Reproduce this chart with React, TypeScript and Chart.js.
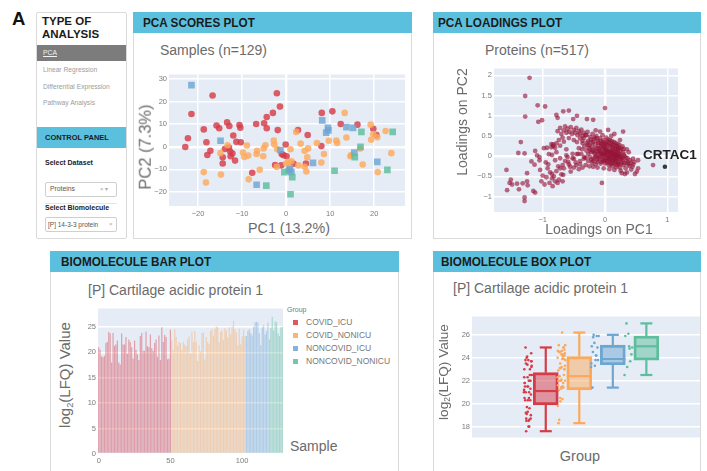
import React, { useEffect, useRef } from 'react';
import { Chart, registerables } from 'chart.js';

Chart.register(...registerables);

const FONT = '"Liberation Sans", Arial, Helvetica, sans-serif';
const CYAN = '#5bc0de';
const TXT = '#6b6b6b';
const TICK = '#7b7b7b';

// ---------- data ----------
const groupNames = ['COVID_ICU', 'COVID_NONICU', 'NONCOVID_ICU', 'NONCOVID_NONICU'];
const groupColors = ['#d63c47', '#fca95c', '#6ea6d2', '#5dbd9c'];
const analysisTypes = ['PCA', 'Linear Regression', 'Differential Expression', 'Pathway Analysis'];

// PCA scores [PC1, PC2]
const covidIcuScores = [
  [-22.9, -0.1], [-22.3, 3.8], [-21.5, 14.5], [-16.7, 22.7], [-18.7, 7.7], [-18.1, 2.0], [-17.9, -3.6], [-17.2, -1.8],
  [-15.8, 9.4], [-15.2, 8.2], [-13.4, 10.8], [-12.9, 9.2], [-13.9, -1.0], [-12.7, -2.1], [-12.6, -4.2], [-14.4, -4.6],
  [-14.4, -7.4], [-11.6, -6.1], [-12.0, 5.0], [-10.6, 9.6], [-10.4, 8.4], [-10.3, 2.0], [-7.7, -11.5], [-6.8, 10.1],
  [-5.0, 10.4], [-4.4, 13.2], [-4.4, 8.2], [-3.0, 15.0], [-1.9, 7.4], [-2.1, 23.7], [-1.4, 17.8], [-2.5, -8.1],
  [-0.6, -3.7], [0.1, -4.2], [-1.1, -8.2], [-0.1, 1.0], [1.7, -7.5], [2.7, 7.4], [4.5, -7.4], [4.9, 5.2],
  [8.1, 15.0], [8.0, 0.3], [10.5, 15.7], [12.4, 10.1], [16.2, 9.8], [19.8, 8.0], [20.5, 5.2], [-13.0, -0.3],
  [-1.0, -3.2], [-12.2, -3.0], [-11.3, 2.2],
];
const covidNonIcuScores = [
  [-18.7, -11.2], [-18.2, -15.8], [-14.8, -12.3], [-14.9, -2.8], [-13.3, 0.7], [-8.9, 0.6], [-9.8, -2.5], [-8.5, -14.4],
  [-8.6, -3.9], [-6.6, -1.8], [-6.7, -3.2], [-6.0, -10.2], [-5.2, -4.2], [-5.1, -0.7], [-4.7, 0.7], [-2.8, 2.8],
  [-2.7, 1.0], [-2.0, -1.1], [1.0, -1.1], [0.0, -7.4], [1.2, -6.4], [2.3, 6.6], [3.3, 1.4], [4.2, -1.8],
  [4.8, -4.6], [4.6, -10.9], [4.2, -8.8], [5.0, -0.7], [7.0, 1.7], [8.0, -7.0], [8.6, -3.2], [9.7, 2.7],
  [11.6, 1.7], [11.4, 2.8], [13.3, 15.0], [13.7, 4.1], [14.8, -3.6], [17.4, -7.8], [19.2, 9.8], [19.3, 3.1],
  [19.8, 5.6], [20.7, 4.2], [20.8, -11.2], [22.6, 7.0], [23.9, -2.8], [14.6, -4.2], [16.8, -0.8], [0.9, -9.3],
  [-2.1, -8.9], [0.5, -6.8], [2.8, -8.2], [-9.5, -4.5],
];
const noncovidIcuScores = [
  [-21.5, 27.3], [-14.9, 2.7], [-6.7, -16.8], [-1.3, -1.4], [0.8, -9.9], [1.2, -11.2], [0.6, -10.6], [6.1, -7.1],
  [8.2, 11.7], [9.1, 6.3], [9.5, 8.4], [9.6, 7.3], [13.7, 8.7], [15.2, 8.4], [15.5, -2.5], [20.7, -6.7],
];
const noncovidNonIcuScores = [
  [-4.5, -17.2], [-0.4, -11.2], [1.4, -13.4], [1.0, -21.0], [11.0, -10.6], [17.1, 6.6], [16.9, 0.0], [15.6, -4.6],
  [23.0, -10.2], [24.2, 6.6],
];

// PCA loadings [PC1, PC2]
const loadings = [
  [-1.21, 1.94], [-1.28, 1.49], [-1.28, 0.98], [-1.08, 1.26], [-0.96, 1.23], [-1.07, 0.85], [-1.01, 0.89], [-0.78, 1.02],
  [-0.76, 0.95], [-0.67, 1.11], [-0.58, 1.13], [-0.45, 1.0], [-0.51, 0.92], [-0.29, 0.92], [-0.19, 0.9], [0.0, 1.19],
  [-0.08, 0.61], [0.05, 0.65], [0.29, 0.61],
  [-0.93, 0.21], [-1.35, 0.35], [-1.39, 0.08], [-1.29, 0.07], [-1.58, -0.34], [-1.57, -0.84], [-1.51, -0.58], [-1.53, -0.66],
  [-1.49, -0.7], [-1.41, -0.68], [-1.38, -0.82], [-1.32, -0.67], [-1.29, -1.02], [-1.29, -1.11], [-1.25, -0.62], [-1.24, -0.72],
  [-1.25, -0.42], [-1.18, -0.13], [-1.13, -0.21], [-1.12, -0.9], [-1.15, -0.86], [-1.12, 0.13], [-1.09, 0.02], [-1.05, -0.02],
  [-1.04, -0.34], [-1.02, -0.62], [-0.97, -0.7], [-0.94, -0.52], [-0.91, -0.2], [-0.85, 0.03], [-0.83, 0.25], [-0.8, 0.21],
  [-0.85, -0.44], [-0.82, -0.5], [-0.78, -0.37], [-0.76, -0.66], [-0.84, -0.74], [-0.89, -0.66], [-0.72, -0.3], [-0.68, -0.22],
  [-0.67, -0.46], [-0.62, 0.17], [-0.6, -0.02], [-0.59, -0.14], [-0.56, -0.26], [-0.52, 0.06], [-0.5, -0.06], [-0.46, -0.22],
  [-0.43, 0.06], [-0.37, 0.17], [-0.34, -0.06], [-0.31, -0.22], [-0.19, -0.26], [-0.05, -0.66],
  [0.21, 0.19], [0.35, 0.17], [0.45, -0.06], [0.53, -0.1], [0.53, -0.3], [0.51, -0.38], [0.48, -0.44], [0.32, -0.44],
  [0.27, -0.42], [0.77, -0.22],
  [-0.83, 0.29], [-0.86, 0.22], [-0.78, 0.32], [-0.72, 0.26], [-0.66, 0.36], [-0.74, 0.4],
  [-0.76, 0.62], [-0.72, 0.7], [-0.7, 0.55], [-0.66, 0.64], [-0.64, 0.74], [-0.62, 0.58], [-0.6, 0.68], [-0.57, 0.6],
  [-0.55, 0.72], [-0.53, 0.55], [-0.5, 0.65], [-0.48, 0.58], [-0.46, 0.7], [-0.44, 0.52], [-0.42, 0.62], [-0.4, 0.56],
  [-0.38, 0.66], [-0.36, 0.5], [-0.34, 0.58], [-0.31, 0.52], [-0.68, 0.46], [-0.58, 0.45], [-0.5, 0.4], [-0.45, 0.35],
  [-0.4, 0.44], [-0.36, 0.38],
  [-0.34, 0.45], [-0.3, 0.52], [-0.27, 0.38], [-0.24, 0.48], [-0.22, 0.34], [-0.2, 0.55], [-0.18, 0.42], [-0.16, 0.3],
  [-0.14, 0.5], [-0.12, 0.38], [-0.1, 0.27], [-0.08, 0.45], [-0.06, 0.33], [-0.04, 0.52], [-0.02, 0.4], [0.0, 0.3],
  [0.02, 0.46], [0.04, 0.36], [0.06, 0.26], [0.08, 0.4], [0.1, 0.31], [0.12, 0.22], [0.14, 0.35], [0.16, 0.27],
  [0.18, 0.18], [0.2, 0.3], [0.22, 0.22], [0.25, 0.14], [0.28, 0.24],
  [-0.33, 0.24], [-0.3, 0.14], [-0.28, 0.28], [-0.26, 0.2], [-0.23, 0.1], [-0.21, 0.24], [-0.19, 0.16], [-0.17, 0.06],
  [-0.15, 0.2], [-0.13, 0.12], [-0.11, 0.02], [-0.09, 0.18], [-0.07, 0.09], [-0.05, 0.0], [-0.03, 0.22], [-0.01, 0.13],
  [0.01, 0.04], [0.03, 0.18], [0.05, 0.1], [0.07, 0.0], [0.09, 0.14], [0.11, 0.06], [0.13, -0.03], [0.15, 0.12],
  [0.17, 0.04], [0.19, -0.05], [0.21, 0.08], [0.23, 0.0], [0.26, -0.06], [0.3, 0.04], [0.33, -0.03],
  [-0.31, -0.04], [-0.27, -0.12], [-0.24, -0.02], [-0.21, -0.16], [-0.18, -0.06], [-0.15, -0.2], [-0.12, -0.09], [-0.09, -0.02],
  [-0.06, -0.14], [-0.03, -0.07], [0.0, -0.18], [0.02, -0.04], [0.04, -0.12], [0.06, -0.22], [0.08, -0.08], [0.1, -0.16],
  [0.12, -0.25], [0.14, -0.1], [0.16, -0.18], [0.18, -0.27], [0.2, -0.12], [0.22, -0.2], [0.24, -0.28], [0.27, -0.15],
  [0.3, -0.22], [0.33, -0.3], [0.36, -0.16], [0.39, -0.24], [0.42, -0.33], [0.45, -0.2], [0.4, -0.1], [0.36, -0.05],
  [-0.02, 0.08], [0.04, 0.02], [0.1, -0.02], [0.16, -0.06], [0.08, 0.1], [0.0, 0.2], [-0.06, 0.24], [0.12, 0.16],
  [-0.1, 0.1], [0.2, 0.0], [0.06, -0.06], [0.14, 0.04], [0.02, 0.12], [-0.04, 0.04], [0.18, 0.1], [0.24, 0.05],
  [-0.25, -0.25], [-0.12, -0.28], [-0.02, -0.3], [0.07, -0.32], [0.15, -0.34], [0.25, -0.36], [0.35, -0.4], [-0.38, 0.05],
  [-0.4, -0.12], [-0.42, 0.2], [-0.36, 0.32], [0.38, 0.1], [0.3, 0.18], [0.24, 0.4], [0.1, 0.5], [-0.28, 0.6],
  [-0.15, 0.64], [0.15, 0.55],
  [-0.29, 0.33], [-0.25, 0.27], [-0.23, 0.41], [-0.19, 0.35], [-0.17, 0.46], [-0.13, 0.44], [-0.11, 0.33], [-0.07, 0.38],
  [-0.05, 0.29], [-0.03, 0.35], [-0.01, 0.25], [0.01, 0.33], [0.03, 0.28], [0.05, 0.41], [0.07, 0.33], [0.09, 0.24],
  [0.11, 0.37], [0.13, 0.28], [0.15, 0.19], [0.17, 0.33], [0.19, 0.24], [0.21, 0.15], [0.23, 0.28], [0.26, 0.19], [0.29, 0.1],
  [-0.27, 0.06], [-0.24, 0.16], [-0.2, 0.12], [-0.16, 0.1], [-0.14, 0.0], [-0.12, 0.2], [-0.08, 0.13], [-0.06, 0.06],
  [-0.04, 0.17], [-0.02, 0.02], [0.0, 0.06], [0.02, 0.16], [0.04, 0.08], [0.06, 0.14], [0.08, 0.04], [0.1, 0.1],
  [0.12, 0.02], [0.14, 0.08], [0.16, 0.0], [0.18, 0.06], [0.2, -0.02], [0.22, 0.04], [0.25, -0.01], [0.28, -0.04], [0.31, 0.0],
  [-0.22, -0.08], [-0.19, -0.12], [-0.16, -0.02], [-0.13, -0.14], [-0.1, -0.06], [-0.07, -0.18], [-0.04, -0.1], [-0.01, -0.12],
  [0.01, -0.08], [0.03, -0.16], [0.05, -0.04], [0.07, -0.12], [0.09, -0.2], [0.11, -0.1], [0.13, -0.18], [0.15, -0.08],
  [0.17, -0.14], [0.19, -0.22], [0.21, -0.16], [0.23, -0.08], [0.25, -0.2], [0.28, -0.1], [0.31, -0.17], [0.34, -0.12],
  [0.37, -0.2], [0.41, -0.16], [0.44, -0.26], [0.47, -0.14],
  [-0.95, -0.15], [-0.9, 0.05], [-0.88, -0.4], [-0.8, -0.1], [-0.78, 0.1], [-0.75, -0.25], [-0.72, -0.05], [-0.7, -0.45],
  [-0.66, -0.3], [-0.64, -0.12], [-0.62, 0.02], [-0.58, -0.2], [-0.55, -0.38], [-0.52, -0.05], [-0.5, -0.28], [-0.47, -0.15],
  [-0.45, 0.05], [-0.42, -0.32], [-0.4, -0.2], [-0.36, -0.28], [-0.33, -0.02], [-0.85, -0.55], [-0.8, -0.62], [-0.74, -0.58],
  [-0.68, -0.62], [-0.92, -0.3], [-1.0, -0.48], [-1.05, -0.1], [-0.98, 0.2], [-0.86, 0.3],
];
const crtac1Loading = [0.96, -0.26];
const crtac1Label = 'CRTAC1';

// log2(LFQ) values of CRTAC1 per sample
const covidIcuLFQ = [
  21.0, 20.5, 19.2, 19.0, 19.3, 21.8, 22.0, 24.0, 23.7, 18.0, 23.8, 21.3, 21.5, 22.3, 18.0, 17.6, 23.7, 21.5, 21.5, 23.0,
  19.7, 22.5, 22.0, 21.0, 18.7, 22.3, 20.5, 19.6, 18.5, 23.2, 23.8, 20.3, 20.3, 24.1, 21.2, 21.0, 23.5, 20.8, 20.3, 21.8,
  22.5, 19.1, 23.3, 18.5, 24.9, 22.0, 23.4, 23.0, 18.6, 18.7, 24.4,
];
const covidNonIcuLFQ = [
  22.3, 20.4, 24.5, 23.0, 21.3, 22.0, 21.8, 20.5, 22.0, 21.5, 21.2, 22.5, 23.1, 19.8, 24.1, 22.0, 24.2, 22.1, 18.3, 21.4,
  20.2, 23.8, 23.9, 18.6, 23.0, 22.0, 21.6, 24.2, 24.5, 23.3, 24.6, 25.1, 24.9, 22.0, 24.0, 24.3, 22.4, 24.7, 24.3, 22.9,
  24.9, 23.5, 25.1, 26.2, 24.5, 23.9, 21.4, 24.6, 21.5, 23.1, 24.4, 23.2,
];
const noncovidIcuLFQ = [23.2, 24.2, 24.5, 23.8, 23.3, 25.0, 25.9, 26.0, 25.9, 23.8, 21.4, 24.9, 25.3, 23.5, 24.2, 25.8];
const noncovidNonIcuLFQ = [22.5, 24.8, 27.0, 24.3, 26.1, 25.9, 23.7, 23.2, 24.9, 25.0];

// box statistics
const boxMin = [17.6, 18.3, 21.4, 22.5];
const boxQ1 = [19.9, 21.2, 23.4, 23.8];
const boxMedian = [21.1, 22.4, 23.9, 25.0];
const boxQ3 = [22.7, 24.1, 25.1, 25.9];
const boxMax = [24.9, 26.2, 26.0, 27.0];

// ---------- helpers ----------
function rgba(hex: string, a: number) {
  const n = parseInt(hex.slice(1), 16);
  return `rgba(${(n >> 16) & 255},${(n >> 8) & 255},${n & 255},${a})`;
}
const minus = (v: any) => String(v).replace('-', '\u2212');
const tickFont = { family: FONT, size: 7.5 };

function linAxis(min: number, max: number, step: number, fit: { w?: number; h?: number }, pad = 2) {
  return {
    type: 'linear',
    min,
    max,
    offset: false,
    ticks: { stepSize: step, includeBounds: false, font: tickFont, color: TICK, padding: pad, callback: minus, maxRotation: 0, autoSkip: false },
    grid: { color: '#ffffff', lineWidth: (c: any) => (c.tick && c.tick.value === 0 ? 2.4 : 1.5), drawTicks: false },
    border: { display: false },
    afterFit: (s: any) => {
      if (fit.w != null) s.width = fit.w;
      if (fit.h != null) s.height = fit.h;
    },
  };
}

const plotBg = {
  id: 'plotBg',
  beforeDraw(chart: any) {
    const { ctx, chartArea: a } = chart;
    ctx.save();
    ctx.fillStyle = '#e5ecf6';
    ctx.fillRect(a.left, a.top, a.right - a.left, a.bottom - a.top);
    ctx.restore();
  },
};

const boxParts = {
  id: 'boxParts',
  afterDatasetsDraw(chart: any) {
    const { ctx, scales } = chart;
    const x = scales.x;
    const y = scales.y;
    ctx.save();
    ctx.lineCap = 'butt';
    groupColors.forEach((c, i) => {
      const cx = x.getPixelForValue(i);
      ctx.strokeStyle = c;
      ctx.lineWidth = 2.2;
      const seg = (x1: number, y1: number, x2: number, y2: number) => {
        ctx.beginPath();
        ctx.moveTo(x1, y1);
        ctx.lineTo(x2, y2);
        ctx.stroke();
      };
      seg(cx, y.getPixelForValue(boxMin[i]), cx, y.getPixelForValue(boxQ1[i]));
      seg(cx, y.getPixelForValue(boxQ3[i]), cx, y.getPixelForValue(boxMax[i]));
      seg(cx - 6, y.getPixelForValue(boxMin[i]), cx + 6, y.getPixelForValue(boxMin[i]));
      seg(cx - 6, y.getPixelForValue(boxMax[i]), cx + 6, y.getPixelForValue(boxMax[i]));
      seg(cx - 12.5, y.getPixelForValue(boxMedian[i]), cx + 12.5, y.getPixelForValue(boxMedian[i]));
    });
    ctx.restore();
  },
};

const crtacLabel = {
  id: 'crtacLabel',
  afterDatasetsDraw(chart: any) {
    const { ctx, scales } = chart;
    const px = scales.x.getPixelForValue(crtac1Loading[0]);
    const py = scales.y.getPixelForValue(crtac1Loading[1]);
    ctx.save();
    ctx.font = `bold 13.5px ${FONT}`;
    ctx.fillStyle = '#222';
    ctx.textAlign = 'center';
    ctx.textBaseline = 'alphabetic';
    ctx.fillText(crtac1Label, px + 5, py - 8);
    ctx.restore();
  },
};

const baseOptions = {
  responsive: false,
  maintainAspectRatio: false,
  animation: false,
  events: [],
  layout: { padding: 0, autoPadding: false },
};

// ---------- chart configs ----------
function scoresConfig() {
  const sets = [covidIcuScores, covidNonIcuScores, noncovidIcuScores, noncovidNonIcuScores];
  return {
    type: 'scatter',
    data: {
      datasets: sets.map((s, i) => ({
        label: groupNames[i],
        data: s.map(([x, y]) => ({ x, y })),
        backgroundColor: rgba(groupColors[i], 0.82),
        borderWidth: 0,
        pointStyle: i < 2 ? 'circle' : 'rect',
        pointRadius: i < 2 ? 3.3 : 4.7,
        order: 4 - i,
      })),
    },
    options: {
      ...baseOptions,
      scales: {
        x: linAxis(-26.6, 27, 10, { h: 14 }, 3),
        y: linAxis(-26.2, 32, 10, { w: 22 }, 2),
      },
      plugins: { legend: { display: false }, tooltip: { enabled: false } },
    },
    plugins: [plotBg],
  };
}

function loadingsConfig() {
  return {
    type: 'scatter',
    data: {
      datasets: [
        {
          data: [{ x: crtac1Loading[0], y: crtac1Loading[1] }],
          backgroundColor: '#3a3a3a',
          borderWidth: 0,
          pointRadius: 2.3,
          order: 1,
        },
        {
          data: loadings.map(([x, y]) => ({ x, y })),
          backgroundColor: 'rgba(150,20,55,0.62)',
          borderWidth: 0,
          pointRadius: 2.4,
          order: 2,
        },
      ],
    },
    options: {
      ...baseOptions,
      layout: { padding: { left: 0, top: 0, bottom: 0, right: 22 }, autoPadding: false },
      scales: {
        x: linAxis(-1.78, 1.17, 1, { h: 14 }, 3),
        y: linAxis(-1.38, 2.17, 0.5, { w: 26 }, 2),
      },
      plugins: { legend: { display: false }, tooltip: { enabled: false } },
    },
    plugins: [plotBg, crtacLabel],
  };
}

const barGroups = [covidIcuLFQ, covidNonIcuLFQ, noncovidIcuLFQ, noncovidNonIcuLFQ];

function barConfig() {
  const points: { x: number; y: number }[] = [];
  const colors: string[] = [];
  barGroups.forEach((arr, g) => arr.forEach((v) => { points.push({ x: points.length, y: v }); colors.push(rgba(groupColors[g], 0.45)); }));
  return {
    type: 'bar',
    data: {
      datasets: [{ data: points, backgroundColor: colors, borderWidth: 0, barPercentage: 0.8, categoryPercentage: 1 }],
    },
    options: {
      ...baseOptions,
      scales: {
        x: { ...linAxis(-0.5, 128.5, 50, { h: 14 }, 2), grid: { display: false, drawTicks: false } },
        y: linAxis(0, 28.6, 5, { w: 16 }, 2),
      },
      plugins: { legend: { display: false }, tooltip: { enabled: false } },
    },
    plugins: [plotBg],
  };
}

function boxConfig() {
  const jitter = (k: number) => (((k * 0.6180339) % 1) - 0.5) * 0.24;
  const strip: { x: number; y: number }[] = [];
  const stripColors: string[] = [];
  barGroups.forEach((arr, g) => arr.forEach((v, k) => { strip.push({ x: g - 0.53 + jitter(k), y: v }); stripColors.push(groupColors[g]); }));
  return {
    type: 'bar',
    data: {
      datasets: [
        {
          type: 'bar',
          data: groupNames.map((_, i) => ({ x: i, y: [boxQ1[i], boxQ3[i]] })),
          backgroundColor: groupColors.map((c) => rgba(c, 0.5)),
          borderColor: groupColors,
          borderWidth: 2.2,
          borderSkipped: false,
          barThickness: 25,
          order: 2,
        },
        {
          type: 'scatter',
          data: strip,
          backgroundColor: stripColors,
          borderWidth: 0,
          pointRadius: 1.3,
          order: 1,
        },
      ],
    },
    options: {
      ...baseOptions,
      scales: {
        x: { type: 'linear', min: -2.2, max: 4.6, offset: false, display: false },
        y: linAxis(17.05, 27.6, 2, { w: 20 }, 2),
      },
      plugins: { legend: { display: false }, tooltip: { enabled: false } },
    },
    plugins: [plotBg, boxParts],
  };
}

// ---------- components ----------
function ChartCanvas({ left, top, width, height, config }: any) {
  const ref = useRef<HTMLCanvasElement | null>(null);
  useEffect(() => {
    const chart = new Chart(ref.current as HTMLCanvasElement, config() as any);
    return () => chart.destroy();
  }, []);
  return <canvas ref={ref} width={width} height={height} style={{ position: 'absolute', left, top, width, height }} />;
}

function T({ x, cy, size, children, center, style }: any) {
  const h = size * 1.2;
  return (
    <div
      style={{
        position: 'absolute', left: x, top: cy - h / 2, height: h, lineHeight: `${h}px`, fontSize: size,
        whiteSpace: 'nowrap', transform: center ? 'translateX(-50%)' : undefined, ...style,
      }}
    >
      {children}
    </div>
  );
}

function VT({ cx, cy, size, children, style }: any) {
  return (
    <div
      style={{
        position: 'absolute', left: cx, top: cy, fontSize: size, lineHeight: 1, whiteSpace: 'nowrap',
        transform: 'translate(-50%,-50%) rotate(-90deg)', ...style,
      }}
    >
      {children}
    </div>
  );
}

function Panel({ left, top, width, height, title, textX }: any) {
  return (
    <>
      <div style={{ position: 'absolute', left, top, width, height, border: '1px solid #dadada', boxSizing: 'border-box' }} />
      <div style={{ position: 'absolute', left, top, width, height: 21, background: CYAN }} />
      <div
        style={{
          position: 'absolute', left: textX, top, height: 21, lineHeight: '21px', fontSize: 13.5, fontWeight: 700,
          color: '#1b1b1b', whiteSpace: 'nowrap', transform: 'scaleX(0.87)', transformOrigin: 'left center',
        }}
      >
        {title}
      </div>
    </>
  );
}

const Log2Label = () => (
  <>
    log<sub style={{ fontSize: '0.62em', verticalAlign: '-0.28em' }}>2</sub>(LFQ) Value
  </>
);

export default function App() {
  const legendY = [322.3, 335, 348.3, 361];
  return (
    <div
      style={{
        position: 'fixed', left: 0, top: 0, width: 707, height: 471, background: '#fff', overflow: 'hidden',
        fontFamily: FONT, color: TXT,
      }}
    >
      {/* figure label */}
      <div style={{ position: 'absolute', left: 12, top: 9.5, fontSize: 18.5, lineHeight: '18.5px', fontWeight: 700, color: '#111' }}>A</div>

      {/* sidebar */}
      <div style={{ position: 'absolute', left: 36, top: 12, width: 91, height: 227, border: '1px solid #dadada', boxSizing: 'border-box', borderRadius: 2 }} />
      <div style={{ position: 'absolute', left: 42, top: 15, fontSize: 11.5, lineHeight: '13px', fontWeight: 700, color: '#1b1b1b' }}>
        TYPE OF<br />ANALYSIS
      </div>
      <div style={{ position: 'absolute', left: 37, top: 45, width: 89, height: 16, background: '#7c7c7c' }} />
      <T x={43} cy={53} size={6.8} style={{ color: '#f2f2f2', textDecoration: 'underline' }}>{analysisTypes[0]}</T>
      <T x={43} cy={70} size={6.7} style={{ color: '#9c9c9c' }}>{analysisTypes[1]}</T>
      <T x={43} cy={87} size={6.7} style={{ color: '#9c9c9c' }}>{analysisTypes[2]}</T>
      <T x={43} cy={103} size={6.7} style={{ color: '#9c9c9c' }}>{analysisTypes[3]}</T>
      <div style={{ position: 'absolute', left: 37, top: 127, width: 89, height: 21, background: CYAN }} />
      <T x={45} cy={137.5} size={7.5} style={{ color: '#1b1b1b', fontWeight: 700 }}>CONTROL PANEL</T>
      <T x={45} cy={163} size={7} style={{ color: '#222', fontWeight: 700 }}>Select Dataset</T>
      <div style={{ position: 'absolute', left: 45, top: 182, width: 72, height: 15, border: '1px solid #cfcfcf', borderRadius: 2, boxSizing: 'border-box' }} />
      <T x={50} cy={189.5} size={6.8} style={{ color: '#555' }}>Proteins</T>
      <T x={100} cy={189.5} size={6} style={{ color: '#aaa' }}>×&nbsp;▾</T>
      <div style={{ position: 'absolute', left: 45, top: 203, width: 72, height: 1, background: '#e4e4e4' }} />
      <T x={45} cy={208} size={7} style={{ color: '#222', fontWeight: 700 }}>Select Biomolecule</T>
      <div style={{ position: 'absolute', left: 45, top: 217, width: 72, height: 15, border: '1px solid #cfcfcf', borderRadius: 2, boxSizing: 'border-box' }} />
      <T x={48} cy={224.5} size={6.5} style={{ color: '#555' }}>[P] 14-3-3 protein</T>
      <T x={109} cy={224.5} size={6} style={{ color: '#aaa' }}>×</T>

      {/* panels */}
      <Panel left={133} top={12} width={279} height={227} title="PCA SCORES PLOT" textX={143} />
      <Panel left={433} top={12} width={268} height={227} title="PCA LOADINGS PLOT" textX={438} />
      <Panel left={50} top={251} width={349} height={230} title="BIOMOLECULE BAR PLOT" textX={61} />
      <Panel left={433} top={251} width={268} height={230} title="BIOMOLECULE BOX PLOT" textX={441} />

      {/* charts */}
      <ChartCanvas left={147} top={68} width={258} height={152} config={scoresConfig} />
      <ChartCanvas left={468} top={62} width={232} height={164} config={loadingsConfig} />
      <ChartCanvas left={82} top={302} width={201} height={166} config={barConfig} />
      <ChartCanvas left={452} top={310} width={248} height={134} config={boxConfig} />

      {/* titles */}
      <T x={160} cy={50} size={14}>Samples (n=129)</T>
      <T x={485} cy={50} size={14}>Proteins (n=517)</T>
      <T x={88} cy={290} size={14}>[P] Cartilage acidic protein 1</T>
      <T x={453} cy={288} size={14}>[P] Cartilage acidic protein 1</T>

      {/* axis titles */}
      <T x={289} cy={229} size={14.3} center>PC1 (13.2%)</T>
      <VT cx={145} cy={147} size={16.5}>PC2 (7.3%)</VT>
      <T x={599} cy={229} size={14} center>Loadings on PC1</T>
      <VT cx={462} cy={122} size={14}>Loadings on PC2</VT>
      <VT cx={66} cy={375} size={15}><Log2Label /></VT>
      <T x={290} cy={446} size={14}>Sample</T>
      <VT cx={444} cy={372} size={13.6}><Log2Label /></VT>
      <T x={580} cy={457} size={14.5} center>Group</T>

      {/* bar legend */}
      <T x={287} cy={310} size={7} style={{ color: '#777' }}>Group</T>
      {groupNames.map((g, i) => (
        <React.Fragment key={g}>
          <div style={{ position: 'absolute', left: 293, top: legendY[i] - 2.5, width: 5, height: 5, background: rgba(groupColors[i], 0.85) }} />
          <T x={306} cy={legendY[i]} size={8.5} style={{ color: '#777' }}>{g}</T>
        </React.Fragment>
      ))}
    </div>
  );
}
